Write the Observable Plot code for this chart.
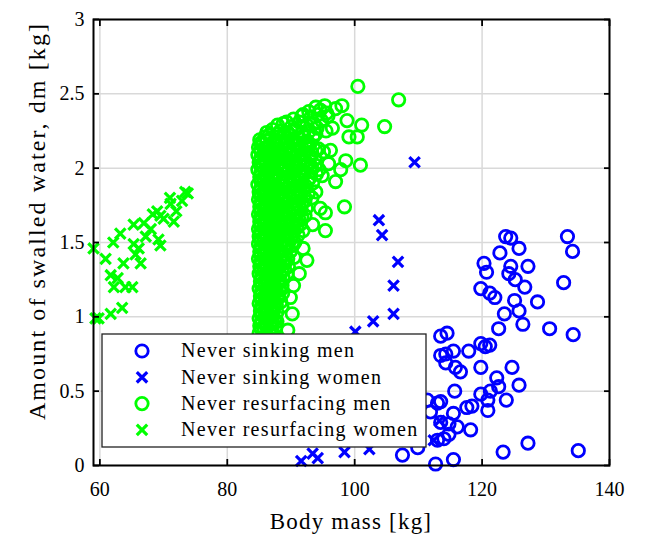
<!DOCTYPE html>
<html>
<head>
<meta charset="utf-8">
<script src="https://cdn.jsdelivr.net/npm/d3@7"></script>
<script src="https://cdn.jsdelivr.net/npm/@observablehq/plot@0.6"></script>
<style>
  html, body { margin: 0; padding: 0; background: #fff; }
</style>
</head>
<body>
<div id="chart"></div>
<script>
// Body mass [kg] and swallowed water [kg] for each group
const sinkingMen = [
  [123.7,1.54],[124.5,1.53],[133.4,1.54],[134.2,1.44],[125.8,1.46],[122.8,1.43],[120.3,1.36],
  [120.7,1.30],[124.5,1.34],[127.2,1.34],[124.2,1.29],[125.2,1.25],[126.7,1.20],[119.8,1.19],
  [121.2,1.16],[122.0,1.13],[132.8,1.23],[125.1,1.11],[125.8,1.04],[128.7,1.10],[123.5,1.02],
  [122.6,0.92],[126.4,0.95],[130.6,0.92],[134.3,0.88],[114.5,0.89],[114.3,0.75],[115.5,0.77],
  [114.3,0.69],[115.8,0.66],[116.6,0.63],[117.9,0.77],[119.8,0.82],[120.5,0.80],[121.2,0.81],
  [119.8,0.66],[124.7,0.66],[122.3,0.59],[125.8,0.54],[122.6,0.53],[121.3,0.50],[119.8,0.48],
  [120.9,0.44],[123.8,0.44],[120.9,0.37],[115.7,0.50],[113.5,0.43],[117.6,0.39],[118.4,0.40],
  [115.5,0.35],[111.9,0.36],[113.5,0.29],[114.8,0.28],[116.1,0.26],[118.2,0.24],[114.8,0.21],
  [114.0,0.18],[115.5,0.04],[112.7,0.01],[123.3,0.09],[127.2,0.15],[135.1,0.10],[107.5,0.07],
  [113.5,0.87],[113.5,0.74],[109.9,0.12],[113.0,0.17],[113.0,0.42],[111.4,0.44]
];

const sinkingWomen = [
  [109.4,2.04],[103.8,1.65],[104.3,1.55],[106.8,1.37],[106.1,1.21],[106.1,1.02],[102.9,0.97],
  [100.1,0.90],[91.6,0.03],[93.4,0.08],[94.2,0.05],[98.4,0.09],[102.3,0.11],[112.4,0.17],[113.3,0.30]
];

const resurfacingMen = [
  [92.8,2.38],[93.9,2.41],[94.6,2.39],[95.3,2.42],[91.7,2.35],
  [90.4,2.33],[91.9,2.36],[93.1,2.34],[94.2,2.36],[95.6,2.37],[89.3,2.31],
  [87.9,2.29],[88.8,2.30],[90.1,2.28],[91.3,2.31],[92.5,2.29],[93.6,2.30],[94.8,2.32],
  [86.2,2.24],[87.1,2.26],[88.3,2.25],[89.5,2.24],[90.7,2.26],[91.8,2.24],[92.9,2.25],[94.1,2.27],[95.5,2.25],
  [86.6,2.22],[88.0,2.23],[89.9,2.22],[92.0,2.22],[93.9,2.23],
  [85.1,2.19],[85.9,2.21],[86.8,2.20],[87.7,2.18],[88.9,2.21],[90.0,2.19],[91.2,2.20],[92.4,2.18],[93.5,2.21],
  [85.3,2.17],[86.2,2.18],[87.2,2.17],[88.1,2.18],[89.1,2.17],[90.2,2.18],[91.3,2.17],[92.6,2.18],
  [84.9,2.14],[85.6,2.16],[86.5,2.15],[87.4,2.13],[88.4,2.16],[89.6,2.14],[90.6,2.16],[91.7,2.14],[92.9,2.15],[94.3,2.13],
  [85.2,2.12],[86.1,2.13],[87.1,2.12],[88.1,2.13],[89.2,2.12],[90.3,2.13],[91.5,2.12],[92.7,2.13],[93.9,2.12],
  [84.8,2.09],[85.7,2.10],[86.6,2.11],[87.6,2.08],[88.7,2.10],[89.8,2.09],[91.0,2.11],[92.1,2.09],[93.3,2.10],[95.1,2.11],
  [85.3,2.07],[86.2,2.08],[87.2,2.07],[88.3,2.08],[89.5,2.07],[90.6,2.08],[91.9,2.07],[93.1,2.08],
  [85.0,2.04],[85.9,2.06],[86.9,2.05],[88.0,2.03],[89.2,2.06],[90.3,2.04],[91.5,2.05],[92.6,2.03],[93.8,2.06],
  [85.2,2.02],[86.1,2.03],[87.0,2.02],[88.0,2.03],[89.1,2.02],[90.2,2.03],[91.4,2.02],[92.6,2.03],[93.8,2.02],
  [84.8,1.99],[85.6,2.01],[86.4,1.98],[87.3,2.00],[88.5,2.01],[89.6,1.99],[90.8,2.00],[92.0,1.98],[93.2,2.01],[94.4,1.99],
  [85.3,1.97],[86.3,1.98],[87.3,1.97],[88.4,1.98],[89.5,1.97],[90.7,1.98],[91.9,1.97],[93.1,1.98],
  [85.1,1.94],[86.0,1.96],[87.0,1.95],[88.1,1.93],[89.2,1.96],[90.4,1.94],[91.6,1.95],[92.8,1.93],[94.0,1.96],
  [85.2,1.92],[86.2,1.93],[87.2,1.92],[88.2,1.93],[89.3,1.92],[90.5,1.93],[91.7,1.92],[92.9,1.93],
  [84.8,1.89],[85.7,1.91],[86.6,1.90],[87.6,1.88],[88.7,1.91],[89.9,1.89],[91.1,1.90],[92.3,1.88],[93.4,1.90],
  [85.3,1.87],[86.2,1.88],[87.3,1.87],[88.4,1.88],[89.6,1.87],[90.8,1.88],[92.0,1.87],
  [85.0,1.84],[85.9,1.86],[86.9,1.85],[88.0,1.83],[89.1,1.86],[90.3,1.84],[91.5,1.85],[92.7,1.83],
  [85.2,1.82],[86.1,1.83],[87.1,1.82],[88.1,1.83],[89.2,1.82],[90.4,1.83],[91.5,1.82],[92.7,1.83],
  [84.9,1.79],[85.7,1.81],[86.6,1.80],[87.6,1.78],[88.6,1.81],[89.8,1.79],[91.0,1.80],[92.2,1.78],[93.3,1.80],
  [85.3,1.77],[86.3,1.78],[87.3,1.77],[88.4,1.78],[89.5,1.77],[90.7,1.78],[91.8,1.77],
  [85.1,1.74],[86.0,1.76],[86.9,1.75],[88.0,1.73],[89.1,1.76],[90.2,1.74],[91.3,1.75],[92.4,1.73],
  [85.2,1.72],[86.2,1.73],[87.2,1.72],[88.2,1.73],[89.3,1.72],[90.4,1.73],[91.6,1.72],
  [84.9,1.69],[85.8,1.71],[86.7,1.70],[87.7,1.68],[88.8,1.71],[89.9,1.69],[91.0,1.70],[92.2,1.68],
  [85.3,1.67],[86.3,1.68],[87.3,1.67],[88.4,1.68],[89.5,1.67],[90.6,1.68],[91.7,1.67],
  [85.1,1.64],[86.0,1.66],[86.9,1.65],[88.0,1.63],[89.0,1.66],[90.1,1.64],[91.3,1.65],
  [85.2,1.62],[86.2,1.63],[87.2,1.62],[88.2,1.63],[89.2,1.62],[90.3,1.63],[91.4,1.62],
  [84.9,1.59],[85.8,1.61],[86.7,1.60],[87.7,1.58],[88.7,1.61],[89.8,1.59],[90.9,1.60],[91.9,1.58],
  [85.3,1.57],[86.3,1.58],[87.3,1.57],[88.3,1.58],[89.4,1.57],[90.5,1.58],
  [85.0,1.54],[85.9,1.56],[86.9,1.55],[87.9,1.53],[88.9,1.56],[90.0,1.54],[91.1,1.55],
  [85.2,1.52],[86.2,1.53],[87.1,1.52],[88.1,1.53],[89.1,1.52],[90.1,1.53],
  [84.9,1.49],[85.7,1.51],[86.6,1.50],[87.6,1.48],[88.6,1.51],[89.6,1.49],[90.6,1.50],
  [85.3,1.47],[86.3,1.48],[87.3,1.47],[88.3,1.48],[89.3,1.47],[90.3,1.48],
  [85.1,1.44],[86.0,1.46],[86.9,1.45],[87.9,1.43],[88.9,1.46],[89.9,1.44],
  [85.2,1.42],[86.2,1.43],[87.2,1.42],[88.1,1.43],[89.1,1.42],
  [84.9,1.39],[85.8,1.41],[86.7,1.40],[87.6,1.38],[88.6,1.41],[89.5,1.39],[90.5,1.40],
  [85.3,1.37],[86.3,1.38],[87.3,1.37],[88.3,1.38],[89.2,1.37],
  [85.1,1.34],[86.0,1.36],[86.9,1.35],[87.9,1.33],[88.8,1.36],[89.6,1.34],
  [85.2,1.32],[86.2,1.33],[87.1,1.32],[88.1,1.33],[89.0,1.32],
  [85.0,1.29],[85.8,1.31],[86.7,1.30],[87.6,1.28],[88.6,1.31],[89.4,1.29],
  [85.4,1.27],[86.4,1.28],[87.4,1.27],[88.3,1.28],
  [85.2,1.24],[86.1,1.26],[87.0,1.25],[87.9,1.23],[88.8,1.26],
  [85.3,1.22],[86.3,1.23],[87.2,1.22],[88.1,1.23],
  [85.0,1.19],[85.9,1.21],[86.8,1.20],[87.7,1.18],[88.6,1.21],
  [85.4,1.17],[86.4,1.18],[87.3,1.17],[88.2,1.18],
  [85.2,1.14],[86.1,1.16],[87.0,1.15],[87.9,1.13],[88.7,1.16],
  [85.3,1.12],[86.3,1.13],[87.2,1.12],[88.0,1.13],
  [85.0,1.09],[85.9,1.11],[86.8,1.10],[87.7,1.08],[88.4,1.10],
  [85.4,1.07],[86.4,1.08],[87.3,1.07],
  [85.2,1.04],[86.0,1.06],[86.9,1.05],[87.8,1.03],
  [85.3,1.02],[86.3,1.03],[87.1,1.02],
  [85.0,0.99],[85.9,1.01],[86.7,1.00],[87.5,0.98],
  [85.4,0.97],[86.3,0.98],[87.1,0.97],
  [85.1,0.94],[86.0,0.96],[86.8,0.95],[87.6,0.93],
  [85.3,0.92],[86.2,0.93],[87.0,0.92],
  [85.0,0.89],[85.8,0.91],[86.6,0.90],[87.3,0.88],
  [85.2,0.84],[86.1,0.86],[86.9,0.83],
  [100.5,2.55],[106.9,2.46],[104.7,2.28],[101.1,2.29],[98.0,2.42],[97.0,2.40],[100.4,2.21],
  [98.8,2.32],[99.1,2.21],[100.9,2.02],[98.6,2.05],[97.8,1.99],[97.0,1.91],[98.4,1.74],
  [95.4,1.58],[95.4,1.70],[94.6,1.73],[92.5,1.38],[90.4,1.21],[90.2,1.02],[88.6,1.07],
  [87.8,0.97],[96.2,2.12],[95.9,2.03],[94.9,1.95],[96.5,2.27],[95.8,2.35],[93.9,1.84],
  [93.4,1.62],[91.9,1.46],[91.3,1.29],[89.9,1.13],[89.5,0.91]
];

const resurfacingWomen = [
  [73.8,1.83],[72.9,1.78],[69.0,1.71],[71.1,1.76],[71.6,1.64],[70.0,1.66],[68.3,1.69],
  [66.9,1.63],[65.3,1.62],[63.2,1.56],[62.1,1.50],[65.3,1.49],[66.1,1.46],[69.2,1.52],
  [69.5,1.48],[65.6,1.42],[66.4,1.36],[63.7,1.36],[59.0,1.46],[60.9,1.39],[61.7,1.28],
  [62.8,1.26],[62.2,1.20],[64.0,1.20],[65.1,1.20],[63.5,1.06],[61.7,1.02],[59.8,0.99],
  [59.3,0.99],[71.0,1.80],[73.4,1.84],[69.5,1.68],[72.0,1.71],[68.0,1.59],[67.2,1.54]
];

const xTicks = [60, 80, 100, 120, 140];
const yTicks = [0, 0.5, 1, 1.5, 2, 2.5, 3];

const seriesNames = ["Never sinking men", "Never sinking women", "Never resurfacing men", "Never resurfacing women"];
const seriesColors = ["#0000ff", "#0000ff", "#00ff00", "#00ff00"];
const seriesSymbols = ["circle", "times", "circle", "times"];

const font = "'Liberation Serif', 'Times New Roman', serif";
const ringR = 6.2, ringW = 2.8, crossR = 4.8, crossW = 3.2;
const noLabel = () => "";

const chart = Plot.plot({
  width: 646,
  height: 540,
  marginLeft: 93,
  marginRight: 37,
  marginTop: 19,
  marginBottom: 75,
  style: { fontFamily: font, fontSize: "20px", background: "#fff", color: "#000" },
  x: { domain: [59, 140] },
  y: { domain: [0, 3] },
  marks: [
    Plot.gridX(xTicks, { stroke: "#d9d9d9", strokeOpacity: 1, strokeWidth: 1.5 }),
    Plot.gridY(yTicks, { stroke: "#d9d9d9", strokeOpacity: 1, strokeWidth: 1.5 }),
    Plot.dot(sinkingMen, { x: d => d[0], y: d => d[1], symbol: "circle", r: ringR, stroke: seriesColors[0], strokeWidth: ringW, fill: "none" }),
    Plot.dot(sinkingWomen, { x: d => d[0], y: d => d[1], symbol: "times", r: crossR, stroke: seriesColors[1], strokeWidth: crossW }),
    Plot.dot(resurfacingMen, { x: d => d[0], y: d => d[1], symbol: "circle", r: ringR, stroke: seriesColors[2], strokeWidth: ringW, fill: "none" }),
    Plot.dot(resurfacingWomen, { x: d => d[0], y: d => d[1], symbol: "times", r: crossR, stroke: seriesColors[3], strokeWidth: crossW }),
    // inward tick marks on all four sides
    Plot.axisX(xTicks, { anchor: "bottom", tickSize: 6, dy: -6, tickFormat: noLabel, strokeWidth: 1.8, label: null }),
    Plot.axisX(xTicks, { anchor: "top", tickSize: 6, dy: 6, tickFormat: noLabel, strokeWidth: 1.8, label: null }),
    Plot.axisY(yTicks, { anchor: "left", tickSize: 6, dx: 6, tickFormat: noLabel, strokeWidth: 1.8, label: null }),
    Plot.axisY(yTicks, { anchor: "right", tickSize: 6, dx: -6, tickFormat: noLabel, strokeWidth: 1.8, label: null }),
    // tick labels
    Plot.axisX(xTicks, { anchor: "bottom", tickSize: 0, tickPadding: 16, tickFormat: d => String(d), fontSize: 20, label: null }),
    Plot.axisY(yTicks, { anchor: "left", tickSize: 0, tickPadding: 9, tickFormat: d => String(d), fontSize: 20, label: null }),
    Plot.frame({ stroke: "#000", strokeWidth: 2 })
  ]
});

document.getElementById("chart").appendChild(chart);

const svg = d3.select(chart);

// Axis titles
svg.append("text")
  .attr("x", 351).attr("y", 522)
  .attr("text-anchor", "middle")
  .attr("dy", "0.32em")
  .attr("font-family", font)
  .attr("font-size", 23)
  .attr("letter-spacing", "1.2px")
  .attr("fill", "#000")
  .text("Body mass [kg]");

svg.append("text")
  .attr("transform", "translate(37,221) rotate(-90)")
  .attr("text-anchor", "middle")
  .attr("dy", "0.32em")
  .attr("font-family", font)
  .attr("font-size", 24)
  .attr("letter-spacing", "2.1px")
  .attr("fill", "#000")
  .text("Amount of swalled water, dm [kg]");

// Legend box drawn inside the plotting area
const legend = svg.append("g")
  .attr("font-family", font)
  .attr("font-size", 20)
  .attr("text-anchor", "start")
  .attr("letter-spacing", "1.3px");
legend.append("rect")
  .attr("x", 102).attr("y", 334).attr("width", 324).attr("height", 113)
  .attr("fill", "#fff").attr("stroke", "#222").attr("stroke-width", 1.3);
seriesNames.forEach((name, i) => {
  const cy = 351 + i * 26.3;
  const isRing = seriesSymbols[i] === "circle";
  const r = isRing ? ringR : crossR;
  const sym = d3.symbol(isRing ? d3.symbolCircle : d3.symbolTimes, r * r * Math.PI);
  legend.append("path")
    .attr("d", sym())
    .attr("transform", `translate(142,${cy})`)
    .attr("fill", "none")
    .attr("stroke", seriesColors[i])
    .attr("stroke-width", isRing ? ringW : crossW);
  legend.append("text")
    .attr("x", 181).attr("y", cy).attr("dy", "0.32em")
    .attr("fill", "#000")
    .text(name);
});
</script>
</body>
</html>
